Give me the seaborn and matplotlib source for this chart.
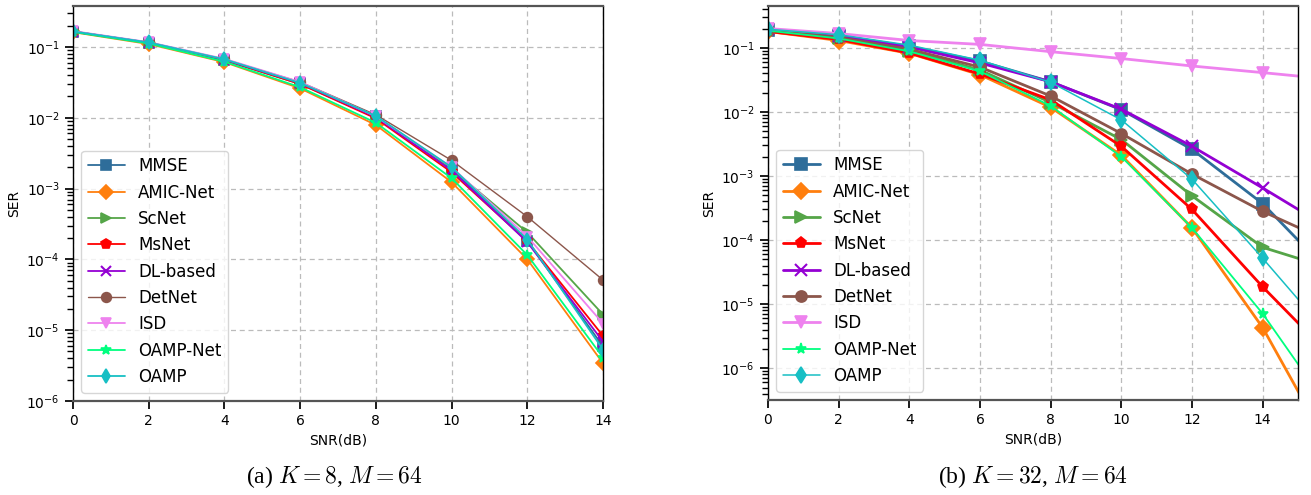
"""SER vs SNR curves for two MIMO settings (K=8 and K=32, M=64)."""

import matplotlib

matplotlib.use("Agg")
import matplotlib.pyplot as plt
import numpy as np
import seaborn as sns

sns.set_theme(style="ticks")
plt.rcParams["font.family"] = ["DejaVu Sans"]
plt.rcParams["mathtext.fontset"] = "cm"
plt.rcParams["text.color"] = "black"
plt.rcParams["axes.labelcolor"] = "black"
plt.rcParams["xtick.color"] = "black"
plt.rcParams["ytick.color"] = "black"

# ---- data -------------------------------------------------------------------
SERIES = ["MMSE", "AMIC-Net", "ScNet", "MsNet", "DL-based", "DetNet", "ISD", "OAMP-Net", "OAMP"]
COLORS = ["#2e6d9a", "#ff7f0e", "#55a548", "#ff0000", "#9400d3", "#8c564b", "#ee82ee", "#00ff7f", "#17bfc4"]
MARKERS = ["s", "D", ">", "p", "x", "o", "v", "*", "d"]

snr_a = [0, 2, 4, 6, 8, 10, 12, 14]
ser_a = {
    "MMSE":     [0.165, 0.115, 0.066, 0.031, 0.0105, 0.0019, 1.8e-4, 5.9e-6],
    "AMIC-Net": [0.162, 0.110, 0.061, 0.026, 0.0079, 0.00123, 1.0e-4, 3.4e-6],
    "ScNet":    [0.165, 0.114, 0.065, 0.030, 0.0102, 0.0019, 2.4e-4, 1.66e-5],
    "MsNet":    [0.165, 0.114, 0.065, 0.030, 0.0098, 0.0017, 1.8e-4, 8.3e-6],
    "DL-based": [0.165, 0.115, 0.066, 0.031, 0.0102, 0.0018, 1.75e-4, 6.9e-6],
    "DetNet":   [0.167, 0.116, 0.067, 0.032, 0.0110, 0.0025, 4.0e-4, 5.1e-5],
    "ISD":      [0.168, 0.117, 0.068, 0.032, 0.0105, 0.0020, 2.1e-4, 1.24e-5],
    "OAMP-Net": [0.163, 0.112, 0.062, 0.027, 0.0085, 0.0014, 1.15e-4, 4.1e-6],
    "OAMP":     [0.166, 0.116, 0.067, 0.031, 0.0106, 0.0020, 1.9e-4, 5.3e-6],
}

snr_b = [0, 2, 4, 6, 8, 10, 12, 14, 16]
ser_b = {
    "MMSE":     [0.19, 0.155, 0.105, 0.062, 0.0295, 0.0108, 0.0026, 3.7e-4, 2.7e-5],
    "AMIC-Net": [0.18, 0.13, 0.082, 0.038, 0.0118, 0.0021, 1.55e-4, 4.3e-6, 4.5e-8],
    "ScNet":    [0.185, 0.14, 0.09, 0.045, 0.014, 0.0037, 4.9e-4, 7.7e-5, 3.5e-5],
    "MsNet":    [0.18, 0.135, 0.083, 0.039, 0.0154, 0.0029, 3.0e-4, 1.86e-5, 1.4e-6],
    "DL-based": [0.195, 0.155, 0.103, 0.058, 0.0295, 0.0110, 0.0029, 6.5e-4, 1.4e-4],
    "DetNet":   [0.19, 0.145, 0.095, 0.05, 0.0177, 0.0046, 1.07e-3, 2.8e-4, 8.9e-5],
    "ISD":      [0.20, 0.167, 0.13, 0.113, 0.087, 0.068, 0.052, 0.041, 0.032],
    "OAMP-Net": [0.185, 0.14, 0.088, 0.043, 0.0124, 0.0020, 1.55e-4, 7.1e-6, 1.9e-7],
    "OAMP":     [0.195, 0.16, 0.11, 0.064, 0.0290, 0.0075, 8.9e-4, 5.2e-5, 2.75e-6],
}

LW_A = [1.3, 1.3, 1.3, 1.3, 1.3, 1.0, 1.3, 1.3, 1.3]
LW_B = [2.0, 2.0, 2.0, 2.0, 2.0, 2.0, 2.0, 1.3, 1.1]


def draw_panel(ax, snr, ser, widths, msize):
    for name, color, marker, lw in zip(SERIES, COLORS, MARKERS, widths):
        sns.lineplot(
            x=snr, y=ser[name], ax=ax, color=color, marker=marker,
            markersize=msize, markeredgewidth=1.2 if marker != "x" else 1.5,
            markeredgecolor=color, linewidth=lw, label=name,
        )
    ax.set_yscale("log")
    ax.set_xlabel("SNR(dB)", fontsize=10)
    ax.set_ylabel("SER", fontsize=10)
    ax.set_xticks([0, 2, 4, 6, 8, 10, 12, 14])
    ax.tick_params(axis="both", labelsize=10, direction="out")
    ax.grid(True, which="major", linestyle=(0, (4, 3)), color="#bbbbbb", linewidth=0.9)
    for side in ["top", "bottom"]:
        ax.spines[side].set_color("#555555")
        ax.spines[side].set_linewidth(1.6)
    for side in ["left", "right"]:
        ax.spines[side].set_color("black")
        ax.spines[side].set_linewidth(1.0)
    ax.legend(loc="lower left", fontsize=12, frameon=True, framealpha=0.8,
              edgecolor="#cccccc", handlelength=2.2, labelspacing=0.5)


fig = plt.figure(figsize=(13.11, 4.95), dpi=100)
ax_a = fig.add_axes([0.0557, 0.190, 0.4043, 0.798])
ax_b = fig.add_axes([0.5858, 0.192, 0.4043, 0.796])

draw_panel(ax_a, snr_a, ser_a, LW_A, 7)
ax_a.set_xlim(0, 14)
ax_a.set_ylim(1e-6, 0.38)

draw_panel(ax_b, snr_b, ser_b, LW_B, 8)
ax_b.set_xlim(0, 15)
ax_b.set_ylim(3.2e-7, 0.45)

fig.text(0.255, 0.036, r"(a) $K=8$, $M=64$", ha="center", va="center",
         fontsize=17, family=["Liberation Serif"])
fig.text(0.788, 0.036, r"(b) $K=32$, $M=64$", ha="center", va="center",
         fontsize=17, family=["Liberation Serif"])

fig.savefig("out.png", dpi=100)
